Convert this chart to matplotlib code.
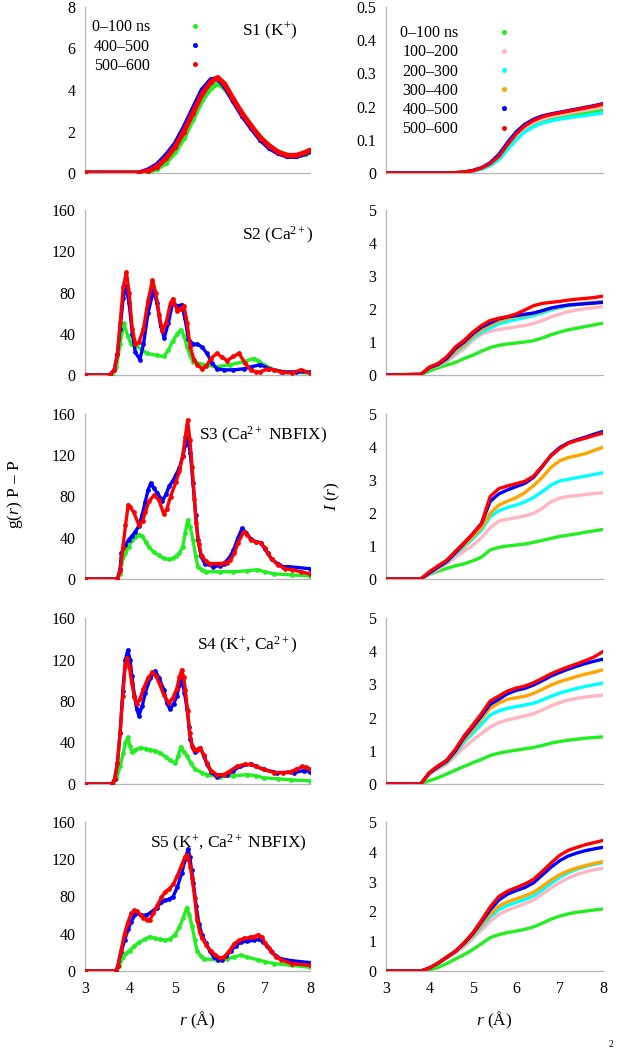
import matplotlib
matplotlib.use("Agg")
import matplotlib.pyplot as plt
from matplotlib.lines import Line2D

plt.rcParams['font.family'] = ['Liberation Serif', 'DejaVu Serif']
plt.rcParams['mathtext.fontset'] = 'custom'
plt.rcParams['mathtext.rm'] = 'Liberation Serif'
plt.rcParams['mathtext.it'] = 'Liberation Serif:italic'

# ---------------- data: g(r) P-P (left column) ----------------
# (r, g) pairs per series
S1_green = [(3.0,0),(4.2,0),(4.4,0.05),(4.6,0.2),(4.8,0.5),(5.0,1.0),(5.2,1.7),(5.4,2.6),(5.6,3.5),(5.8,4.1),
            (5.95,4.3),(6.1,4.1),(6.3,3.5),(6.5,2.85),(6.7,2.25),(6.9,1.7),(7.1,1.3),(7.3,1.0),(7.5,0.85),
            (7.7,0.8),(7.9,0.9),(8.0,1.0)]
S1_blue = [(3.0,0),(4.2,0),(4.4,0.15),(4.6,0.4),(4.8,0.85),(5.0,1.4),(5.2,2.2),(5.4,3.1),(5.6,4.0),(5.8,4.5),
           (5.95,4.55),(6.1,4.2),(6.3,3.45),(6.5,2.75),(6.7,2.15),(6.9,1.6),(7.1,1.2),(7.3,0.95),(7.5,0.8),
           (7.7,0.8),(7.9,0.95),(8.0,1.05)]
S1_red = [(3.0,0),(4.2,0),(4.4,0.1),(4.6,0.3),(4.8,0.7),(5.0,1.25),(5.2,2.0),(5.4,2.9),(5.6,3.8),(5.8,4.4),
          (5.95,4.6),(6.1,4.3),(6.3,3.55),(6.5,2.85),(6.7,2.25),(6.9,1.7),(7.1,1.3),(7.3,1.0),(7.5,0.85),
          (7.7,0.85),(7.9,1.0),(8.0,1.1)]

S2_green = [(3.0,0),(3.6,0),(3.7,8),(3.78,30),(3.86,50),(3.95,38),(4.02,30),(4.15,28),(4.25,25),(4.37,21),
            (4.6,19),(4.75,18),(4.85,24),(4.95,33),(5.05,40),(5.13,44),(5.2,38),(5.27,27),(5.35,17),(5.41,13),
            (5.64,10),(5.93,8),(6.23,10),(6.53,13),(6.75,16),(6.85,14),(6.97,10),(7.2,5),(7.5,3),(8.0,2)]
S2_blue = [(3.0,0),(3.55,0),(3.65,5),(3.72,20),(3.78,45),(3.85,75),(3.91,86),(3.98,70),(4.05,40),(4.12,22),
           (4.22,15),(4.3,30),(4.4,60),(4.52,82),(4.6,70),(4.68,48),(4.76,36),(4.85,50),(4.95,70),(5.05,67),
           (5.15,68),(5.22,55),(5.3,35),(5.4,30),(5.5,30),(5.6,27),(5.71,21),(5.82,12),(5.93,6),(6.1,5),
           (6.3,5),(6.53,6),(6.7,8),(6.9,10),(7.1,6),(7.4,3),(7.7,3),(8.0,3)]
S2_red = [(3.0,0),(3.55,0),(3.65,5),(3.72,20),(3.78,50),(3.85,85),(3.92,100),(3.98,80),(4.05,45),(4.12,30),
          (4.2,32),(4.3,45),(4.4,72),(4.5,92),(4.57,80),(4.65,58),(4.72,43),(4.8,50),(4.9,70),(4.96,74),
          (5.05,62),(5.12,64),(5.2,67),(5.27,50),(5.34,27),(5.42,15),(5.5,10),(5.6,6),(5.7,9),(5.8,16),
          (5.93,21),(6.05,17),(6.16,14),(6.3,18),(6.42,21),(6.55,12),(6.68,5),(6.8,3),(6.9,3),(7.05,6),
          (7.2,5),(7.35,3),(7.6,2),(7.8,5),(8.0,2)]

S3_green = [(3.0,0),(3.72,0),(3.77,5),(3.81,15),(3.9,25),(3.97,31),(4.05,38),(4.12,41),(4.2,43),(4.27,42),
            (4.35,36),(4.42,31),(4.53,26),(4.64,23),(4.75,20),(4.87,19),(4.95,20),(5.02,22),(5.1,25),(5.17,31),
            (5.23,45),(5.28,57),(5.34,50),(5.4,38),(5.46,22),(5.51,12),(5.6,9),(5.7,7),(6.0,7),(6.3,7),
            (6.6,8),(6.83,9),(7.0,7),(7.2,5),(7.6,4),(8.0,3)]
S3_blue = [(3.0,0),(3.72,0),(3.78,10),(3.81,25),(3.9,33),(3.97,38),(4.05,42),(4.12,46),(4.19,51),(4.27,62),
           (4.34,75),(4.4,86),(4.46,93),(4.53,88),(4.61,83),(4.72,76),(4.8,82),(4.87,90),(4.95,95),(5.02,101),
           (5.1,108),(5.17,119),(5.23,130),(5.28,138),(5.34,122),(5.4,93),(5.46,62),(5.51,38),(5.58,22),
           (5.66,15),(5.85,12),(6.0,13),(6.08,15),(6.2,20),(6.3,28),(6.4,40),(6.49,49),(6.58,45),(6.68,39),
           (6.8,36),(6.91,35),(7.0,29),(7.06,25),(7.15,19),(7.28,15),(7.4,12),(7.51,12),(8.0,10)]
S3_red = [(3.0,0),(3.72,0),(3.78,8),(3.84,30),(3.9,52),(3.96,72),(4.0,70),(4.08,65),(4.2,52),(4.28,56),
          (4.34,65),(4.43,76),(4.53,81),(4.64,77),(4.75,63),(4.82,68),(4.9,80),(5.02,94),(5.1,105),(5.17,119),
          (5.23,138),(5.28,154),(5.33,135),(5.38,109),(5.43,78),(5.47,54),(5.53,34),(5.59,22),(5.7,17),
          (5.78,15),(6.0,15),(6.15,16),(6.23,18),(6.32,25),(6.4,35),(6.53,46),(6.6,43),(6.68,38),(6.8,36),
          (6.91,35),(7.0,30),(7.06,25),(7.15,19),(7.28,14),(7.45,10),(7.6,9),(7.8,7),(8.0,5)]

S4_green = [(3.0,0),(3.62,0),(3.7,5),(3.78,17),(3.85,30),(3.9,40),(3.95,45),(4.0,37),(4.04,31),(4.12,33),
            (4.23,35),(4.35,34),(4.45,33),(4.55,32),(4.67,30),(4.8,26),(4.89,23),(5.01,20),(5.07,27),(5.13,36),
            (5.2,31),(5.27,27),(5.35,20),(5.45,14),(5.6,11),(5.71,9),(6.0,7),(6.3,8),(6.6,9),(6.8,8),
            (6.97,6),(7.3,5),(7.57,4),(8.0,3)]
S4_blue = [(3.0,0),(3.6,0),(3.66,5),(3.72,20),(3.78,49),(3.84,90),(3.9,120),(3.95,129),(4.0,120),(4.04,104),
           (4.1,85),(4.15,72),(4.2,66),(4.27,75),(4.34,88),(4.45,102),(4.56,109),(4.65,102),(4.75,91),(4.82,78),
           (4.89,72),(4.97,77),(5.04,85),(5.1,95),(5.15,102),(5.21,88),(5.27,72),(5.31,55),(5.34,43),(5.4,35),
           (5.45,31),(5.5,33),(5.56,35),(5.64,27),(5.71,19),(5.8,12),(5.93,7),(6.16,9),(6.3,13),(6.45,17),
           (6.68,19),(6.8,17),(6.97,14),(7.27,11),(7.64,11),(7.87,13),(8.0,12)]
S4_red = [(3.0,0),(3.6,0),(3.66,5),(3.72,20),(3.78,49),(3.84,85),(3.89,113),(3.94,121),(3.99,112),(4.04,97),
          (4.1,84),(4.15,77),(4.22,82),(4.3,92),(4.4,102),(4.5,108),(4.58,104),(4.66,96),(4.75,86),(4.86,78),
          (4.95,83),(5.04,92),(5.1,103),(5.15,110),(5.19,103),(5.23,91),(5.28,70),(5.33,49),(5.38,37),
          (5.42,33),(5.48,33),(5.56,35),(5.64,28),(5.71,20),(5.8,13),(5.93,9),(6.08,9),(6.2,12),(6.38,17),
          (6.55,19),(6.68,19),(6.8,17),(6.97,14),(7.2,11),(7.4,11),(7.57,12),(7.7,14),(7.83,17),(7.92,16),
          (8.0,14)]

S5_green = [(3.0,0),(3.7,0),(3.76,5),(3.84,15),(3.92,19),(3.99,22),(4.1,27),(4.21,31),(4.33,34),(4.44,37),
            (4.55,35),(4.66,34),(4.78,33),(4.88,34),(5.0,39),(5.1,47),(5.18,57),(5.26,68),(5.32,60),(5.38,48),
            (5.44,33),(5.49,22),(5.57,16),(5.64,13),(5.94,12),(6.15,13),(6.31,15),(6.46,17),(6.6,15),(6.84,12),
            (7.0,10),(7.21,8),(7.6,6),(8.0,4)]
S5_blue = [(3.0,0),(3.68,0),(3.73,5),(3.8,20),(3.88,33),(3.96,45),(4.03,53),(4.1,60),(4.14,62),(4.25,60),
           (4.36,60),(4.47,63),(4.59,68),(4.7,74),(4.78,76),(4.87,77),(4.96,80),(5.05,90),(5.15,105),(5.23,120),
           (5.29,131),(5.33,122),(5.37,108),(5.41,94),(5.47,70),(5.53,51),(5.6,39),(5.68,30),(5.77,22),
           (5.86,15),(5.95,12),(6.04,12),(6.14,16),(6.24,22),(6.35,27),(6.46,31),(6.6,32),(6.76,33),(6.87,34),
           (6.96,31),(7.04,27),(7.14,21),(7.25,16),(7.36,13),(7.6,11),(8.0,9)]
S5_red = [(3.0,0),(3.68,0),(3.73,5),(3.8,22),(3.88,40),(3.95,52),(4.03,62),(4.1,65),(4.16,64),(4.24,60),
          (4.3,57),(4.38,55),(4.44,55),(4.52,62),(4.6,70),(4.7,79),(4.78,85),(4.87,88),(4.96,93),(5.05,102),
          (5.15,114),(5.22,122),(5.26,125),(5.3,120),(5.34,112),(5.38,100),(5.44,78),(5.49,55),(5.55,42),
          (5.6,35),(5.7,28),(5.79,22),(5.9,17),(6.0,14),(6.09,15),(6.2,21),(6.31,29),(6.42,33),(6.54,35),
          (6.66,36),(6.76,37),(6.85,39),(6.93,36),(7.0,30),(7.08,25),(7.15,20),(7.25,15),(7.36,12),(7.59,8),
          (8.0,6)]

# ---------------- data: I(r) (right column) ----------------
r_I = [3.0, 3.8, 4.0, 4.2, 4.4, 4.6, 4.8, 5.0, 5.2, 5.4, 5.6, 5.8, 6.0, 6.2, 6.4, 6.6, 6.8, 7.0, 7.2, 7.4, 7.6, 7.8, 8.0]

I1_green  = [0,0,0,0,0,0.001,0.003,0.006,0.013,0.025,0.045,0.078,0.108,0.132,0.147,0.158,0.165,0.170,0.174,0.178,0.182,0.186,0.190]
I1_pink   = [0,0,0,0,0,0.001,0.003,0.007,0.014,0.027,0.048,0.082,0.112,0.136,0.152,0.162,0.170,0.175,0.180,0.185,0.189,0.194,0.198]
I1_cyan   = [0,0,0,0,0,0.001,0.002,0.005,0.011,0.022,0.040,0.070,0.100,0.124,0.139,0.150,0.157,0.162,0.166,0.170,0.173,0.177,0.181]
I1_orange = [0,0,0,0,0,0.001,0.003,0.007,0.015,0.029,0.052,0.088,0.120,0.144,0.159,0.170,0.177,0.182,0.187,0.192,0.197,0.202,0.207]
I1_blue   = [0,0,0,0,0,0.001,0.003,0.008,0.016,0.031,0.056,0.092,0.124,0.147,0.162,0.172,0.178,0.183,0.188,0.193,0.198,0.203,0.209]
I1_red    = [0,0,0,0,0,0.001,0.003,0.007,0.015,0.028,0.050,0.085,0.118,0.142,0.158,0.169,0.176,0.181,0.186,0.191,0.196,0.201,0.207]

I2_green  = [0,0.01,0.12,0.22,0.30,0.38,0.50,0.60,0.72,0.83,0.90,0.94,0.97,1.00,1.04,1.12,1.22,1.30,1.37,1.42,1.47,1.52,1.57]
I2_pink   = [0,0.02,0.20,0.28,0.40,0.60,0.80,1.05,1.24,1.32,1.38,1.42,1.46,1.50,1.56,1.65,1.76,1.84,1.92,1.97,2.01,2.04,2.07]
I2_cyan   = [0,0.02,0.20,0.30,0.44,0.68,0.88,1.12,1.30,1.42,1.55,1.62,1.68,1.74,1.80,1.88,1.97,2.04,2.10,2.14,2.17,2.19,2.22]
I2_orange = [0,0.02,0.20,0.30,0.46,0.72,0.92,1.18,1.38,1.52,1.64,1.72,1.77,1.81,1.86,1.93,2.01,2.07,2.12,2.15,2.18,2.20,2.23]
I2_blue   = [0,0.02,0.22,0.32,0.50,0.80,1.00,1.25,1.45,1.58,1.70,1.76,1.80,1.84,1.88,1.95,2.03,2.08,2.12,2.14,2.16,2.18,2.20]
I2_red    = [0,0.02,0.24,0.35,0.55,0.85,1.05,1.30,1.50,1.65,1.72,1.77,1.85,1.97,2.10,2.17,2.20,2.23,2.27,2.30,2.32,2.35,2.39]

I3_green  = [0,0,0.14,0.24,0.32,0.40,0.46,0.55,0.66,0.88,0.96,1.00,1.03,1.06,1.11,1.17,1.23,1.29,1.33,1.37,1.42,1.46,1.50]
I3_pink   = [0,0,0.16,0.30,0.45,0.66,0.85,1.02,1.25,1.55,1.76,1.81,1.86,1.91,1.99,2.14,2.34,2.45,2.50,2.53,2.56,2.59,2.62]
I3_cyan   = [0,0,0.18,0.35,0.50,0.76,0.98,1.22,1.48,1.89,2.07,2.17,2.24,2.34,2.47,2.65,2.84,2.97,3.02,3.07,3.12,3.17,3.22]
I3_orange = [0,0,0.18,0.35,0.52,0.78,1.02,1.28,1.56,1.99,2.24,2.36,2.46,2.62,2.83,3.08,3.38,3.58,3.68,3.74,3.80,3.90,3.99]
I3_blue   = [0,0,0.18,0.36,0.53,0.80,1.08,1.37,1.68,2.35,2.58,2.70,2.80,2.90,3.08,3.40,3.75,3.98,4.13,4.22,4.30,4.39,4.47]
I3_red    = [0,0,0.22,0.40,0.57,0.84,1.10,1.37,1.68,2.50,2.74,2.82,2.89,2.96,3.12,3.42,3.73,3.95,4.11,4.20,4.27,4.35,4.42]

I4_green  = [0,0,0.10,0.19,0.30,0.42,0.53,0.64,0.74,0.86,0.93,0.98,1.02,1.06,1.10,1.16,1.23,1.28,1.32,1.35,1.38,1.40,1.42]
I4_pink   = [0,0,0.30,0.45,0.60,0.85,1.10,1.32,1.52,1.72,1.85,1.93,1.99,2.05,2.12,2.23,2.35,2.45,2.53,2.58,2.62,2.65,2.68]
I4_cyan   = [0,0,0.32,0.49,0.64,0.92,1.26,1.53,1.80,2.08,2.20,2.28,2.33,2.38,2.43,2.53,2.64,2.74,2.81,2.88,2.94,2.99,3.04]
I4_orange = [0,0,0.32,0.50,0.66,0.96,1.33,1.63,1.96,2.28,2.44,2.55,2.60,2.64,2.73,2.85,2.98,3.08,3.16,3.24,3.31,3.37,3.44]
I4_blue   = [0,0,0.33,0.52,0.69,1.00,1.40,1.72,2.05,2.40,2.55,2.72,2.82,2.88,2.98,3.11,3.25,3.36,3.46,3.55,3.63,3.70,3.76]
I4_red    = [0,0,0.35,0.55,0.72,1.05,1.45,1.78,2.12,2.50,2.65,2.80,2.89,2.95,3.05,3.18,3.32,3.43,3.53,3.62,3.72,3.83,3.99]

I5_green  = [0,0,0.04,0.12,0.25,0.40,0.55,0.72,0.92,1.12,1.22,1.29,1.34,1.40,1.48,1.60,1.74,1.84,1.92,1.97,2.01,2.05,2.08]
I5_pink   = [0,0,0.10,0.25,0.43,0.60,0.82,1.08,1.38,1.66,1.90,2.04,2.15,2.26,2.38,2.58,2.78,2.97,3.12,3.24,3.33,3.40,3.45]
I5_cyan   = [0,0,0.10,0.26,0.45,0.64,0.88,1.16,1.50,1.81,2.06,2.20,2.30,2.40,2.52,2.72,2.94,3.14,3.30,3.42,3.51,3.58,3.64]
I5_orange = [0,0,0.10,0.26,0.45,0.65,0.90,1.20,1.56,1.90,2.18,2.32,2.42,2.52,2.64,2.84,3.05,3.23,3.36,3.46,3.54,3.61,3.67]
I5_blue   = [0,0,0.10,0.26,0.46,0.66,0.93,1.25,1.65,2.05,2.38,2.58,2.70,2.80,2.96,3.22,3.48,3.70,3.86,3.96,4.04,4.10,4.15]
I5_red    = [0,0,0.10,0.27,0.47,0.67,0.95,1.28,1.70,2.15,2.50,2.68,2.80,2.92,3.08,3.34,3.62,3.88,4.05,4.15,4.24,4.31,4.38]

panel_labels = ["S1 (K$^{+}$)", "S2 (Ca$^{2+}$)", "S3 (Ca$^{2+}$ NBFIX)",
                "S4 (K$^{+}$, Ca$^{2+}$)", "S5 (K$^{+}$, Ca$^{2+}$ NBFIX)"]
legend_left = ["0\u2013100 ns", "400\u2013500", "500\u2013600"]
legend_right = ["0\u2013100 ns", "100\u2013200", "200\u2013300", "300\u2013400", "400\u2013500", "500\u2013600"]
x_ticks = [3, 4, 5, 6, 7, 8]

# ---------------- styling ----------------
GREEN, PINK, CYAN, ORANGE, BLUE, RED = '#22ee22', '#ffb6c1', '#00ffff', '#ffa500', '#0000ff', '#ff0000'
W, H = 619, 1050
rows_px = [(7, 173), (210, 375), (414, 579), (618, 784), (822, 971)]
left_px = (85, 310)
right_px = (386, 603)

fig = plt.figure(figsize=(W / 100, H / 100), dpi=100)

def add_ax(xp, yp):
    return fig.add_axes([xp[0] / W, 1 - yp[1] / H, (xp[1] - xp[0]) / W, (yp[1] - yp[0]) / H])

def style(ax, bottom):
    for s in ('top', 'right'):
        ax.spines[s].set_visible(False)
    for s in ('left', 'bottom'):
        ax.spines[s].set_color('#b4b4b4')
        ax.spines[s].set_linewidth(0.9)
    ax.set_xlim(3, 8)
    ax.set_xticks(x_ticks)
    ax.tick_params(length=0, labelsize=11.5, pad=7)
    if not bottom:
        ax.tick_params(labelbottom=False)

g_sets = [(S1_green, S1_blue, S1_red), (S2_green, S2_blue, S2_red), (S3_green, S3_blue, S3_red),
          (S4_green, S4_blue, S4_red), (S5_green, S5_blue, S5_red)]
i_sets = [(I1_green, I1_pink, I1_cyan, I1_orange, I1_blue, I1_red),
          (I2_green, I2_pink, I2_cyan, I2_orange, I2_blue, I2_red),
          (I3_green, I3_pink, I3_cyan, I3_orange, I3_blue, I3_red),
          (I4_green, I4_pink, I4_cyan, I4_orange, I4_blue, I4_red),
          (I5_green, I5_pink, I5_cyan, I5_orange, I5_blue, I5_red)]
label_pos = [(0.698, 0.85), (0.698, 0.848), (0.507, 0.873), (0.498, 0.837), (0.289, 0.859)]

for i, (yp, gs, iset) in enumerate(zip(rows_px, g_sets, i_sets)):
    bottom = (i == 4)
    axl = add_ax(left_px, yp)
    style(axl, bottom)
    lw = 3.6 if i == 0 else 2.4
    for series, col in zip(gs, (GREEN, BLUE, RED)):
        rr, gg = zip(*series)
        axl.plot(rr, gg, color=col, lw=lw, solid_joinstyle='round', solid_capstyle='round', zorder=3,
                 marker='o', ms=2.8 if i == 0 else 2.4, markevery=1)
    if i == 0:
        axl.set_ylim(0, 8)
        axl.set_yticks([0, 2, 4, 6, 8])
    else:
        axl.set_ylim(0, 160)
        axl.set_yticks([0, 40, 80, 120, 160])
    axl.text(label_pos[i][0], label_pos[i][1], panel_labels[i], transform=axl.transAxes,
             ha='left', va='center', fontsize=12.5, zorder=5)

    axr = add_ax(right_px, yp)
    style(axr, bottom)
    for series, col in zip(iset, (GREEN, PINK, CYAN, ORANGE, BLUE, RED)):
        axr.plot(r_I, series, color=col, lw=2.4, solid_joinstyle='round', zorder=3)
    if i == 0:
        axr.set_ylim(0, 0.5)
        axr.set_yticks([0, 0.1, 0.2, 0.3, 0.4, 0.5])
        axr.set_yticklabels(['0', '0.1', '0.2', '0.3', '0.4', '0.5'])
    else:
        axr.set_ylim(0, 5)
        axr.set_yticks([0, 1, 2, 3, 4, 5])

    if i == 0:
        hl = [Line2D([], [], color=c, marker='o', ms=2.6, ls='none') for c in (GREEN, BLUE, RED)]
        axl.legend(hl, legend_left, loc='upper left', bbox_to_anchor=(0.03, 0.925), frameon=False,
                   markerfirst=False, handlelength=1.0, handletextpad=2.3, labelspacing=0.2,
                   fontsize=11.5, borderpad=0, borderaxespad=0)
        hr = [Line2D([], [], color=c, marker='o', ms=2.6, ls='none')
              for c in (GREEN, PINK, CYAN, ORANGE, BLUE, RED)]
        axr.legend(hr, legend_right, loc='upper left', bbox_to_anchor=(0.065, 0.89), frameon=False,
                   markerfirst=False, handlelength=1.0, handletextpad=2.35, labelspacing=0.2,
                   fontsize=11.5, borderpad=0, borderaxespad=0)

fig.text(15 / W, 1 - 494 / H, "g($r$) P \u2013 P", rotation=90, ha='center', va='center', fontsize=12.5)
fig.text(332 / W, 1 - 496 / H, "$I$ ($r$)", rotation=90, ha='center', va='center', fontsize=12.5)
for xp in (left_px, right_px):
    fig.text((xp[0] + xp[1]) / 2 / W, 1 - 1020 / H, "$r$ (\u00c5)", ha='center', va='center', fontsize=12.5)
# small superscript mark at the bottom-right edge of the original page
fig.text(609 / W, 1 / H, "2", ha='left', va='bottom', fontsize=7)

fig.savefig("out.png", dpi=100)
